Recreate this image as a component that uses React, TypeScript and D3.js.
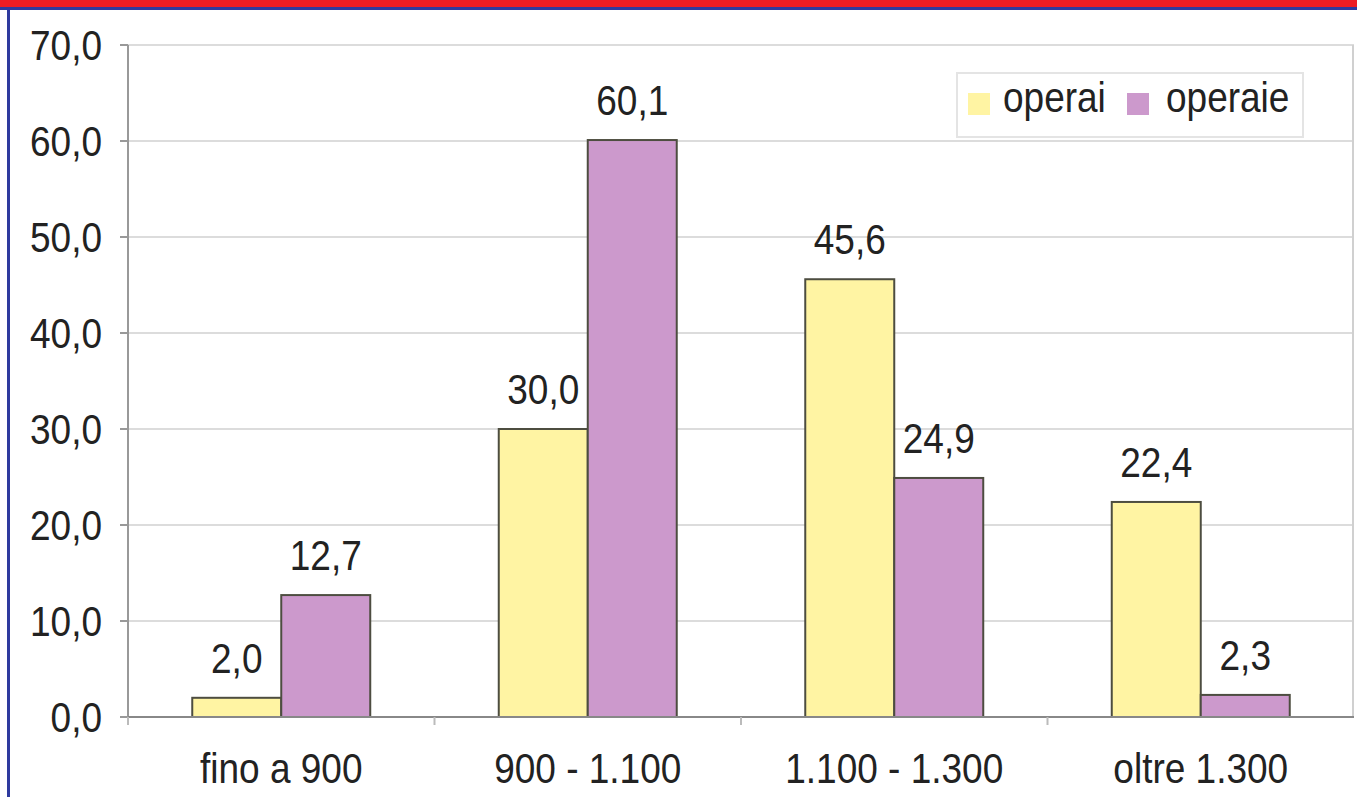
import React from "react";
import * as d3 from "d3";

const categories = ["fino a 900", "900 - 1.100", "1.100 - 1.300", "oltre 1.300"];
const series = ["operai", "operaie"];
const operai = [2.0, 30.0, 45.6, 22.4];
const operaie = [12.7, 60.1, 24.9, 2.3];
const yTicks = [0, 10, 20, 30, 40, 50, 60, 70];
const colors = ["#FFF4A3", "#CC99CC"];

const W = 1357;
const H = 797;
const FONT = "'Liberation Sans', Arial, sans-serif";
const FS = 37;
const SY = 1.13;

const fmt = (v: number) => v.toFixed(1).replace(".", ",");

export default function App() {
  const left = 128;
  const right = 1354;
  const top = 45;
  const bottom = 717;
  const x = d3.scaleBand<string>().domain(categories).range([left, right]).padding(0);
  const xs = d3
    .scaleBand<string>()
    .domain(series)
    .range([0, x.bandwidth()])
    .paddingInner(0)
    .paddingOuter(0.722);
  const y = d3.scaleLinear().domain([0, 70]).range([bottom, top]);
  const values = [operai, operaie];

  const T = (props: { x: number; y: number; anchor?: string; children: React.ReactNode }) => (
    <text
      transform={`translate(${props.x},${props.y}) scale(1,${SY})`}
      textAnchor={props.anchor || "middle"}
      fontFamily={FONT}
      fontSize={FS}
      fill="#222"
    >
      {props.children}
    </text>
  );

  return (
    <svg
      width={W}
      height={H}
      style={{ position: "absolute", left: 0, top: 0, background: "#fff" }}
    >
      <rect x={0} y={0} width={W} height={H} fill="#fff" />
      {/* frame */}
      <rect x={0} y={0} width={W} height={7} fill="#ED1C24" />
      <rect x={0} y={7} width={W} height={3} fill="#2E3A9E" />
      <rect x={7} y={7} width={3} height={H - 7} fill="#2E3A9E" />

      {/* gridlines */}
      {yTicks.slice(1).map((t) => (
        <line key={t} x1={left} x2={right} y1={y(t)} y2={y(t)} stroke="#dcdcdc" strokeWidth={2} />
      ))}
      <line x1={right - 1} x2={right - 1} y1={top} y2={bottom} stroke="#d0d0d0" strokeWidth={2} />

      {/* y axis */}
      <line x1={left} x2={left} y1={top} y2={bottom} stroke="#999" strokeWidth={2} />
      {yTicks.map((t) => (
        <g key={t}>
          <line x1={left - 8} x2={left} y1={y(t)} y2={y(t)} stroke="#999" strokeWidth={2} />
          <T x={102} y={y(t) + 15} anchor="end">
            {fmt(t)}
          </T>
        </g>
      ))}

      {/* bars */}
      {categories.map((c, i) => (
        <g key={c}>
          {series.map((s, j) => {
            const bx = (x(c) as number) + (xs(s) as number);
            const v = values[j][i];
            return (
              <g key={s}>
                <rect
                  x={bx}
                  y={y(v)}
                  width={xs.bandwidth()}
                  height={bottom - y(v)}
                  fill={colors[j]}
                  stroke="#4d4d40"
                  strokeWidth={2}
                />
                <T x={bx + xs.bandwidth() / 2} y={y(v) - 25}>
                  {fmt(v)}
                </T>
              </g>
            );
          })}
          <T x={(x(c) as number) + x.bandwidth() / 2} y={783}>
            {c}
          </T>
        </g>
      ))}

      {/* x axis */}
      <line x1={left} x2={right} y1={bottom} y2={bottom} stroke="#888" strokeWidth={2} />
      {categories.map((c) => (
        <line
          key={c}
          x1={x(c) as number}
          x2={x(c) as number}
          y1={bottom}
          y2={bottom + 8}
          stroke="#bbb"
          strokeWidth={2}
        />
      ))}

      {/* legend */}
      <rect x={957} y={73} width={346} height={64} fill="#fff" stroke="#e4e4e4" strokeWidth={2} />
      <rect x={968} y={93} width={22} height={22} fill={colors[0]} />
      <T x={1003} y={112} anchor="start">
        {series[0]}
      </T>
      <rect x={1127} y={93} width={22} height={22} fill={colors[1]} />
      <T x={1166} y={112} anchor="start">
        {series[1]}
      </T>
    </svg>
  );
}
